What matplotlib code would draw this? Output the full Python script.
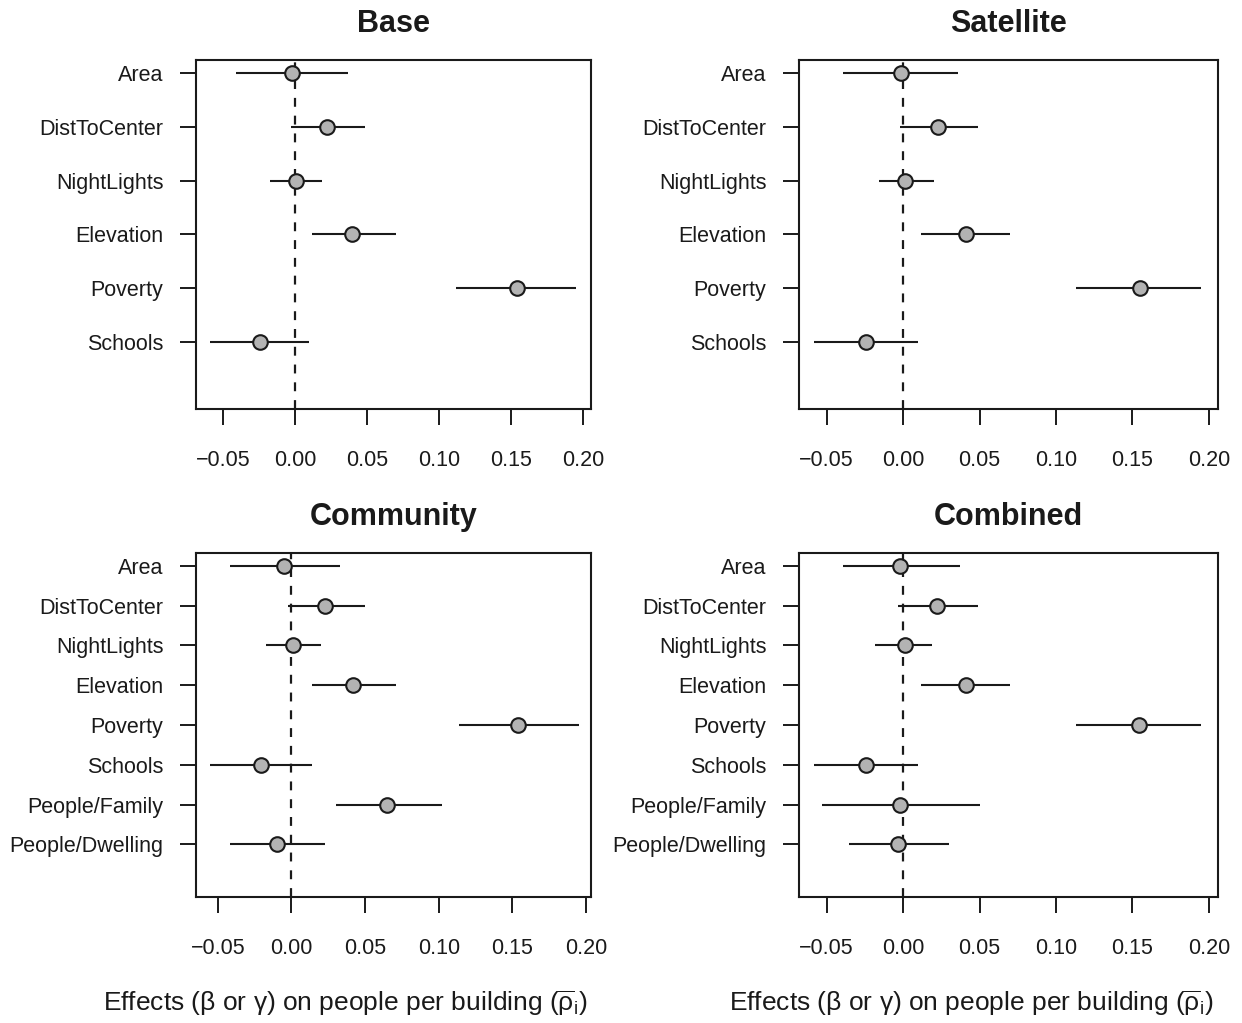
import matplotlib
matplotlib.use("Agg")
import matplotlib.pyplot as plt
import numpy as np

plt.rcParams['font.family'] = ['Liberation Sans', 'DejaVu Sans']
plt.rcParams['mathtext.fontset'] = 'custom'
plt.rcParams['mathtext.rm'] = 'Liberation Sans'
plt.rcParams['mathtext.it'] = 'Liberation Sans:italic'

# variable names (top to bottom)
vars_base = ['Area', 'DistToCenter', 'NightLights', 'Elevation', 'Poverty', 'Schools']
vars_full = vars_base + ['People/Family', 'People/Dwelling']

# Base model
base_est = [-0.002, 0.022, 0.001, 0.040, 0.154, -0.024]
base_lo = [-0.041, -0.003, -0.017, 0.012, 0.112, -0.059]
base_hi = [0.037, 0.049, 0.019, 0.070, 0.195, 0.010]

# Satellite model
sat_est = [-0.001, 0.023, 0.001, 0.041, 0.155, -0.024]
sat_lo = [-0.039, -0.002, -0.016, 0.012, 0.113, -0.058]
sat_hi = [0.036, 0.049, 0.020, 0.070, 0.195, 0.010]

# Community model
com_est = [-0.005, 0.023, 0.001, 0.042, 0.154, -0.021, 0.065, -0.010]
com_lo = [-0.042, -0.002, -0.017, 0.014, 0.114, -0.055, 0.030, -0.042]
com_hi = [0.033, 0.050, 0.020, 0.071, 0.195, 0.014, 0.102, 0.023]

# Combined model
cmb_est = [-0.002, 0.022, 0.001, 0.041, 0.154, -0.024, -0.002, -0.003]
cmb_lo = [-0.039, -0.003, -0.018, 0.012, 0.113, -0.058, -0.053, -0.035]
cmb_hi = [0.037, 0.049, 0.019, 0.070, 0.195, 0.010, 0.050, 0.030]

xticks = [-0.05, 0.00, 0.05, 0.10, 0.15, 0.20]
xlab = r'Effects (β or γ) on people per building ($\overline{\mathrm{ρ}}_\mathrm{i}$)'

W, H = 1242, 1023
fig = plt.figure(figsize=(W / 100, H / 100), dpi=100)

def px_axes(x0, x1, y0, y1):
    return fig.add_axes([x0 / W, 1 - y1 / H, (x1 - x0) / W, (y1 - y0) / H])

panels = [
    ('Base', vars_base, base_est, base_lo, base_hi, (196, 591, 60, 409), (-0.0686, 0.2056)),
    ('Satellite', vars_base, sat_est, sat_lo, sat_hi, (799, 1218, 60, 409), (-0.068, 0.2059)),
    ('Community', vars_full, com_est, com_lo, com_hi, (196, 591, 553, 897), (-0.0648, 0.2034)),
    ('Combined', vars_full, cmb_est, cmb_lo, cmb_hi, (799, 1218, 553, 897), (-0.068, 0.2059)),
]

for title, names, est, lo, hi, box, xl in panels:
    ax = px_axes(*box)
    n = len(names)
    y = np.arange(n, 0, -1)
    ax.axvline(0, color='#1a1a1a', linestyle=(0, (4, 4)), linewidth=1.6, zorder=1)
    ax.hlines(y, lo, hi, color='#1a1a1a', linewidth=1.5, zorder=2)
    ax.plot(est, y, 'o', markersize=10.5, markerfacecolor='#b3b3b3',
            markeredgecolor='#1a1a1a', markeredgewidth=1.5, zorder=3)
    ax.set_xlim(*xl)
    ax.set_ylim(-0.04 * n, n * 1.04)
    ax.set_yticks(y)
    ax.set_yticklabels(names)
    ax.set_xticks(xticks)
    ax.set_xticklabels(['\u22120.05', '0.00', '0.05', '0.10', '0.15', '0.20'])
    ax.tick_params(axis='both', direction='out', length=11.5, width=1.4,
                   color='#1a1a1a', labelsize=15.5, labelcolor='#1a1a1a')
    ax.tick_params(axis='x', pad=18)
    ax.tick_params(axis='y', pad=12)
    for s in ax.spines.values():
        s.set_linewidth(1.5)
        s.set_color('#1a1a1a')
    cx = (box[0] + box[1]) / 2
    fig.text(cx / W, 1 - (box[2] - 36) / H, title, ha='center', va='center',
             fontsize=22, fontweight='bold', color='#1a1a1a')

fig.text(345 / W, 1 - 1003 / H, xlab, ha='center', va='center', fontsize=19, color='#1a1a1a')
fig.text(971 / W, 1 - 1003 / H, xlab, ha='center', va='center', fontsize=19, color='#1a1a1a')

fig.savefig('out.png', dpi=100)
